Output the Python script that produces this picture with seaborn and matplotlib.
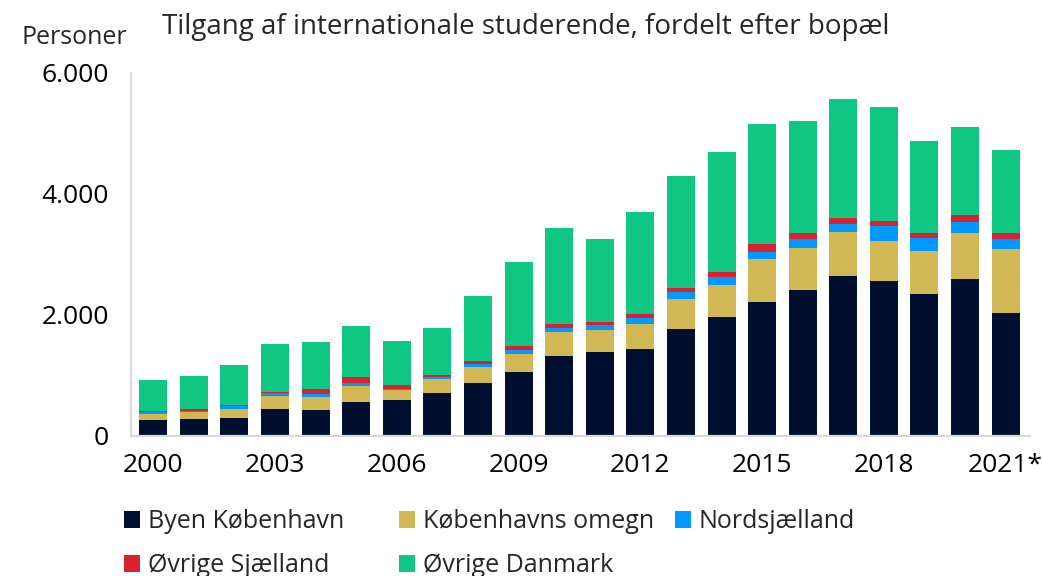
import matplotlib
matplotlib.use("Agg")
import matplotlib.pyplot as plt
import seaborn as sns
import pandas as pd
from matplotlib.patches import Patch
from matplotlib.ticker import FuncFormatter

years = [str(y) for y in range(2000, 2021)] + ["2021*"]
byen_kbh = [264, 281, 298, 446, 430, 562, 595, 711, 876, 1058, 1322, 1389,
            1438, 1769, 1967, 2215, 2413, 2645, 2562, 2347, 2595, 2033]
kbh_omegn = [100, 116, 148, 215, 215, 265, 165, 231, 265, 297, 397, 363,
             413, 496, 529, 711, 695, 727, 661, 711, 761, 1058]
nordsjaelland = [33, 16, 55, 50, 55, 49, 17, 33, 49, 67, 66, 83,
                 100, 115, 132, 116, 148, 132, 248, 215, 181, 165]
ovr_sjaelland = [22, 33, 5, 22, 77, 99, 66, 33, 50, 66, 66, 49,
                 66, 66, 83, 132, 100, 100, 83, 83, 116, 100]
ovr_danmark = [507, 546, 673, 788, 777, 843, 727, 777, 1074, 1388, 1587, 1372,
               1686, 1852, 1984, 1983, 1851, 1967, 1884, 1520, 1455, 1372]

series_names = ["Byen København", "Københavns omegn", "Nordsjælland",
                "Øvrige Sjælland", "Øvrige Danmark"]
colors = ["#000E2F", "#D2B854", "#0099FF", "#D82232", "#0FC683"]

df = pd.DataFrame({
    "year": years,
    series_names[0]: byen_kbh,
    series_names[1]: kbh_omegn,
    series_names[2]: nordsjaelland,
    series_names[3]: ovr_sjaelland,
    series_names[4]: ovr_danmark,
})
# cumulative totals, drawn top-down so each layer covers the ones above it
cum = df[series_names].cumsum(axis=1)
cum["year"] = df["year"]

sns.set_style("white")
plt.rcParams["font.family"] = ["Open Sans", "DejaVu Sans"]
FS = 18

fig = plt.figure(figsize=(10.42, 5.76), dpi=100)
ax = fig.add_axes([0.1257, 0.2431, 0.8628, 0.6302])

for name, col in reversed(list(zip(series_names, colors))):
    sns.barplot(data=cum, x="year", y=name, color=col, width=0.69,
                saturation=1, ax=ax, linewidth=0)

ax.set_xlim(-0.55, 21.6)
ax.set_ylim(0, 6000)
ax.set_yticks([0, 2000, 4000, 6000])
ax.yaxis.set_major_formatter(FuncFormatter(lambda v, p: f"{int(v):,}".replace(",", ".")))
ax.set_xticks(range(0, 22, 3))
ax.set_xticklabels([years[i] for i in range(0, 22, 3)])
ax.set_xlabel("")
ax.set_ylabel("")
ax.tick_params(axis="both", length=0, labelsize=19, colors="#000000")
ax.tick_params(axis="y", pad=16)
ax.tick_params(axis="x", pad=12)

for s in ["top", "right"]:
    ax.spines[s].set_visible(False)
for s in ["left", "bottom"]:
    ax.spines[s].set_color("#D9D9D9")
    ax.spines[s].set_linewidth(1.6)

fig.text(162 / 1042, 1 - 27 / 576, "Tilgang af internationale studerende, fordelt efter bopæl",
         fontsize=20, ha="left", va="center")
fig.text(21 / 1042, 1 - 38 / 576, "Personer", fontsize=FS, ha="left", va="center")

# legend laid out row-wise on a fixed grid
handles = [Patch(facecolor=c, edgecolor="none") for c in colors]
cols = [[0, 3], [1, 4], [2]]
xs = [124, 399, 675]
for idx, x in zip(cols, xs):
    fig.legend([handles[i] for i in idx], [series_names[i] for i in idx],
               loc="upper left", bbox_to_anchor=(x / 1042, 1 - 509 / 576),
               frameon=False, fontsize=FS, handlelength=0.65, handleheight=0.65,
               handletextpad=0.3, labelspacing=0.76, borderpad=0, borderaxespad=0)

fig.savefig("out.png", dpi=100)
